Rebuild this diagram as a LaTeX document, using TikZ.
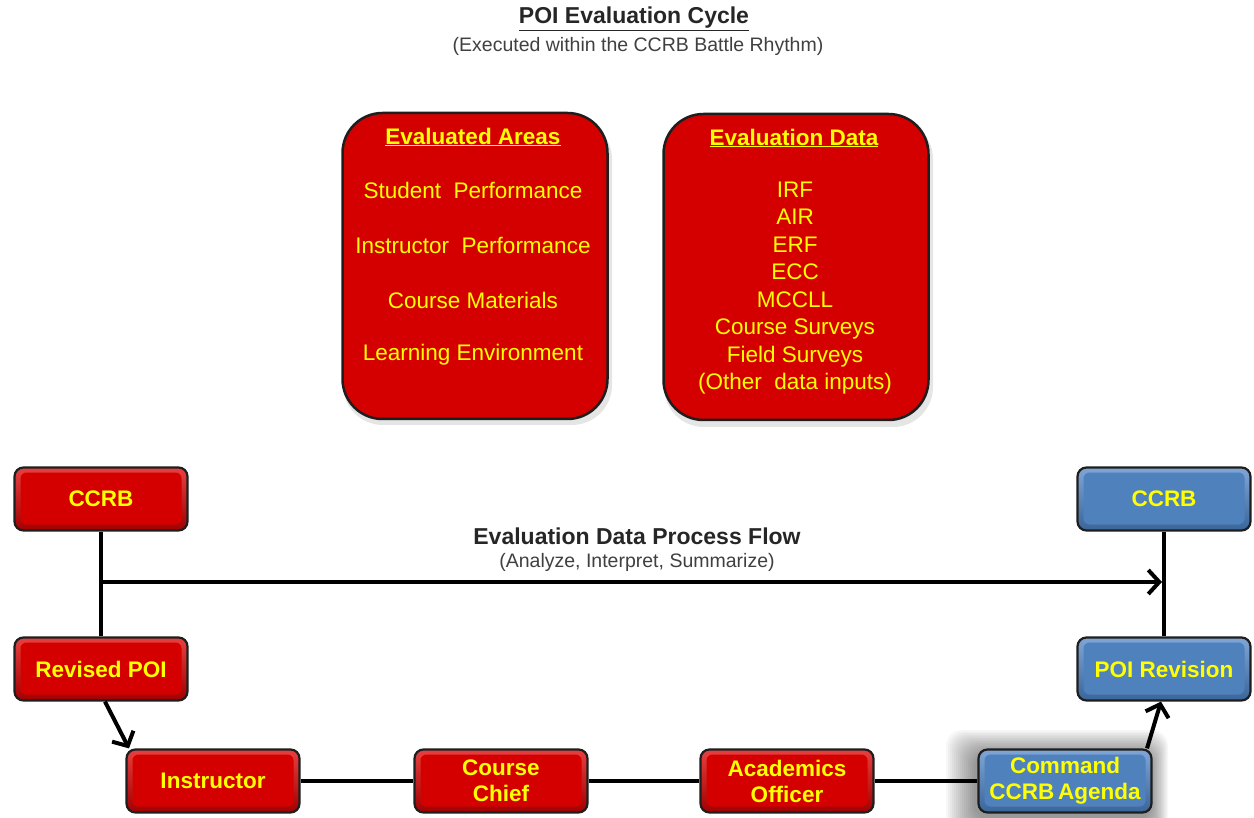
\documentclass[tikz,border=0pt]{standalone}
\usepackage{fontspec}
\setmainfont{Liberation Sans}
\usetikzlibrary{arrows.meta}
\definecolor{boxred}{HTML}{D40000}
\definecolor{redlight}{HTML}{E84040}
\definecolor{reddark}{HTML}{A00000}
\definecolor{boxblue}{HTML}{4F81BD}
\definecolor{bluelight}{HTML}{7FA6D6}
\definecolor{bluedark}{HTML}{3A6599}
\definecolor{txtyel}{HTML}{FFFF00}
\definecolor{edge}{HTML}{1E1E1E}
\begin{document}
\begin{tikzpicture}[x=1pt,y=-1pt,
  small/.style={draw=edge, line width=2.2pt, rounded corners=9pt, minimum width=173pt, minimum height=63pt, text=txtyel, font=\fontsize{22.5}{27}\selectfont\bfseries, align=center, inner sep=0pt},
  bevel/.style={path picture={\fill[#1, rounded corners=6pt] ([shift={(6,5)}]path picture bounding box.north west) rectangle ([shift={(-6,-6)}]path picture bounding box.south east);}},
  redbox/.style={small, top color=redlight, bottom color=reddark, bevel=boxred},
  bluebox/.style={small, top color=bluelight, bottom color=bluedark, bevel=boxblue},
  bigbox/.style={draw=edge, line width=2.5pt, rounded corners=40pt, fill=boxred, minimum width=265pt, minimum height=306pt, inner sep=0pt},
  item/.style={text=txtyel, font=\fontsize{22.5}{27.5}\selectfont, align=center, inner sep=0pt},
  head/.style={text=txtyel, font=\fontsize{22.5}{27}\selectfont\bfseries, inner sep=0pt},
  conn/.style={line width=4pt, draw=black},
  arr/.style={conn, -{Straight Barb[length=11pt,width=24pt]}}
]
\useasboundingbox[fill=white] (0,0) rectangle (1254,818);

% title
\node[font=\fontsize{23}{27}\selectfont\bfseries, text=black!85, inner sep=0pt] (title) at (634,19) {\underline{POI Evaluation Cycle}};
\node[font=\fontsize{19.5}{23}\selectfont, text=black!75, inner sep=0pt] (subtitle) at (638,46) {(Executed within\ the CCRB\ Battle Rhythm)};

% big boxes with soft shadow
\fill[black, opacity=0.10, rounded corners=40pt] (343,119) rectangle (612,425);
\fill[black, opacity=0.10, rounded corners=40pt] (664,119) rectangle (933,427);
\node[bigbox] (areas) at (475,266) {};
\node[bigbox] (data) at (796,267) {};

\node[head] (areash) at (473,137) {\underline{Evaluated Areas}};
\node[item] (a1) at (473,190) {Student\ \ Performance};
\node[item] (a2) at (473,245) {Instructor\ \ Performance};
\node[item] (a3) at (473,300) {Course Materials};
\node[item] (a4) at (473,355) {Learning Environment};

\node[head] (datah) at (794,138) {\underline{Evaluation Data}};
\node[item] (dlist) at (795,288) {IRF\\AIR\\ERF\\ECC\\MCCLL\\Course Surveys\\Field Surveys\\(Other\ \ data inputs)};

% soft glow behind Command box
\foreach \g in {30,28,...,2}{
  \fill[black, opacity=0.03, rounded corners=16pt] (976-\g,754-\g*0.8) rectangle (1150+\g*0.6,818+\g);
}

% small boxes
\node[redbox] (ccrbL) at (101,499) {CCRB};
\node[redbox] (revpoi) at (101,669) {Revised POI};
\node[redbox] (instr) at (213,781) {Instructor};
\node[redbox] (chief) at (501,781) {Course\\[-1pt]Chief};
\node[redbox] (acad) at (787,781) {Academics\\[-1pt]Officer};
\node[bluebox] (cmd) at (1065,781) {Command\\[-1pt]CCRB\,Agenda};
\node[bluebox] (ccrbR) at (1164,499) {CCRB};
\node[bluebox] (poirev) at (1164,669) {POI Revision};

% flow labels
\node[font=\fontsize{23}{27}\selectfont\bfseries, text=black!85, inner sep=0pt] (flowlbl) at (637,536) {Evaluation Data Process Flow};
\node[font=\fontsize{19.5}{23}\selectfont, text=black!75, inner sep=0pt] (flowsub) at (637,562) {(Analyze, Interpret, Summarize)};

% connectors
\coordinate (jL) at (101,582);
\coordinate (jR) at (1162,582);
\draw[conn] (ccrbL.south) -- (revpoi.north);
\draw[arr] (jL) -- (jR);
\draw[conn] (ccrbR.south) -- (poirev.north);
\draw[arr] ([xshift=4pt]revpoi.south) -- ([xshift=-84pt]instr.north);
\draw[conn] (instr.east) -- (chief.west);
\draw[conn] (chief.east) -- (acad.west);
\draw[conn] (acad.east) -- (cmd.west);
\draw[arr] ([xshift=82pt]cmd.north) -- ([xshift=-3pt]poirev.south);
\end{tikzpicture}
\end{document}
